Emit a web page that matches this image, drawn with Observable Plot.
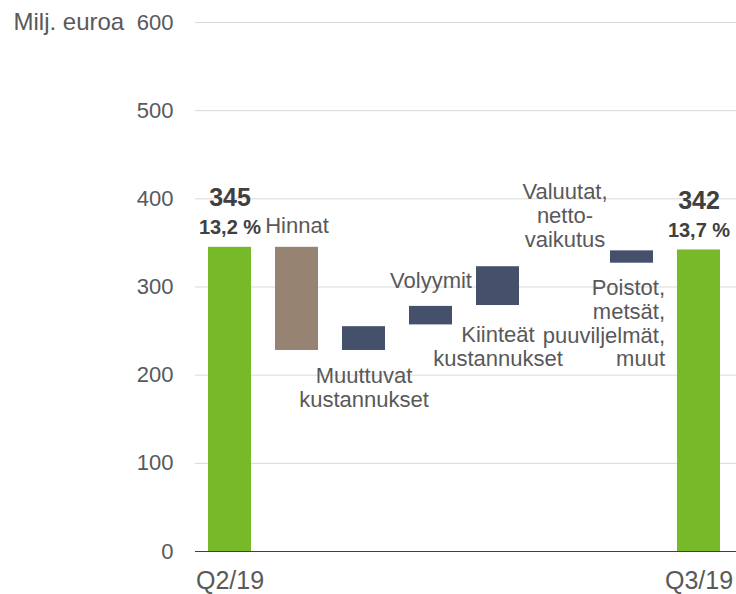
<!DOCTYPE html>
<html><head><meta charset="utf-8">
<script src="https://cdn.jsdelivr.net/npm/d3@7"></script>
<script src="https://cdn.jsdelivr.net/npm/@observablehq/plot@0.6"></script>
<style>body{margin:0;background:#fff;} svg{overflow:visible}</style>
</head><body><div id="chart"></div>
<script>
// Data (million euros)
const categories = ["Q2/19","Hinnat","Muuttuvat","Volyymit","Kiinteät","Valuutat","Poistot","Q3/19"];
const barLabels = ["", "Hinnat", "Muuttuvat\nkustannukset", "Volyymit", "Kiinteät\nkustannukset", "Valuutat,\nnetto-\nvaikutus", "Poistot,\nmetsät,\npuuviljelmät,\nmuut", ""];
const barLow  = [0, 228, 228, 257, 279, 325, 327, 0];
const barHigh = [345, 345, 255, 278, 323, 325, 341, 342];
const barKind = ["total","price","cost","cost","cost","cost","cost","total"];
const totalValues = ["345", "342"];
const marginValues = ["13,2 %", "13,7 %"];
const yTicks = [0, 100, 200, 300, 400, 500, 600];
const yUnit = "Milj. euroa";

const rows = categories.map((c, i) => ({cat: c, label: barLabels[i], low: barLow[i], high: barHigh[i], kind: barKind[i]}));
const totals = [rows[0], rows[7]].map((r, i) => ({...r, total: totalValues[i], margin: marginValues[i]}));

const TXT = "#595959", BOLD = "#404040";
const F = 22;
const lab = (cat, pos, dy, extra = {}) => {
  const r = rows.filter(d => d.cat === cat);
  return Plot.text(r, {x: "cat", y: pos === "above" ? "high" : "low", text: "label",
    lineAnchor: pos === "above" ? "bottom" : "top", dy, fontSize: F, fill: TXT, lineHeight: 1.08, ...extra});
};

const plot = Plot.plot({
  width: 736, height: 594,
  marginLeft: 195, marginRight: 0, marginTop: 22, marginBottom: 43,
  style: {fontFamily: "'Liberation Sans', Arial, sans-serif", background: "#fff", overflow: "visible"},
  x: {domain: categories, range: [183, 744], padding: 0.36},
  y: {domain: [0, 600]},
  color: {domain: ["total","price","cost"], range: ["#78b92a", "#968372", "#45506a"]},
  marks: [
    Plot.ruleY(yTicks.filter(t => t > 0), {stroke: "#d9d9d9", strokeWidth: 1}),
    Plot.rectY(rows, {x: "cat", y1: "low", y2: "high", fill: "kind"}),
    Plot.ruleY([0], {stroke: "#404040", strokeWidth: 1}),
    Plot.axisY(yTicks, {tickSize: 0, tickPadding: 22, fontSize: 22, color: TXT, label: null}),
    Plot.axisX({tickSize: 0, tickPadding: 20, fontSize: 25, color: TXT, label: null,
      tickFormat: d => d.startsWith("Q") ? d : ""}),
    Plot.text([yUnit], {frameAnchor: "top-left", dx: -182, dy: 0, text: d => d, textAnchor: "start",
      lineAnchor: "middle", fontSize: 24, fill: TXT}),
    lab("Hinnat", "above", -14),
    lab("Muuttuvat", "below", 16),
    lab("Volyymit", "above", -18),
    lab("Kiinteät", "below", 20),
    lab("Valuutat", "above", -18),
    lab("Poistot", "below", 15, {textAnchor: "end", dx: 33}),
    Plot.text(totals, {x: "cat", y: "high", text: "margin", lineAnchor: "bottom", dy: -13,
      fontSize: 20, fontWeight: "bold", fill: BOLD}),
    Plot.text(totals, {x: "cat", y: "high", text: "total", lineAnchor: "bottom", dy: -41,
      fontSize: 25, fontWeight: "bold", fill: BOLD})
  ]
});
document.getElementById("chart").appendChild(plot);
</script>
</body></html>
